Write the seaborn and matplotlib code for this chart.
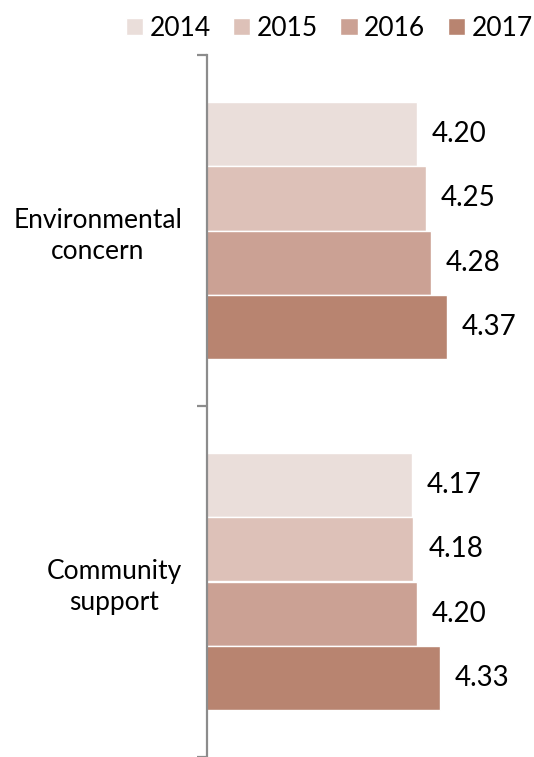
import matplotlib
matplotlib.use("Agg")
import matplotlib.pyplot as plt
import seaborn as sns
import pandas as pd
from matplotlib.ticker import FixedLocator

# Survey scores by dimension and year
categories = ["Environmental\nconcern", "Community\nsupport"]
years = ["2014", "2015", "2016", "2017"]
env_scores = [4.20, 4.25, 4.28, 4.37]
community_scores = [4.17, 4.18, 4.20, 4.33]
palette = ["#EADEDA", "#DDC1B8", "#CBA194", "#B88470"]

rows = []
for cat, vals in zip(categories, [env_scores, community_scores]):
    for yr, v in zip(years, vals):
        rows.append({"category": cat, "year": yr, "score": v})
df = pd.DataFrame(rows)

sns.set_theme(style="white")
plt.rcParams["font.family"] = ["Lato", "DejaVu Sans"]

fig = plt.figure(figsize=(5.34, 7.57), dpi=100)
ax = fig.add_axes([207 / 534, 0.0, 1 - 207 / 534, 1 - 55 / 757])

sns.barplot(
    data=df, y="category", x="score", hue="year", hue_order=years,
    order=categories, palette=palette, orient="h", width=0.73,
    edgecolor="white", linewidth=1.0, saturation=1.0, ax=ax, legend=True,
)

ax.set_xlim(3.0, 4.87)
ax.set_ylim(1.5, -0.5)
ax.set_xlabel("")
ax.set_ylabel("")
ax.set_xticks([])

# value labels to the right of each bar
for container in ax.containers:
    for bar in container:
        w = bar.get_width()
        ax.text(w + 0.085, bar.get_y() + bar.get_height() / 2, f"{w:.2f}",
                va="center", ha="left", fontsize=20, color="black")

for side in ["top", "right", "bottom"]:
    ax.spines[side].set_visible(False)
ax.spines["left"].set_color("#8c8c8c")
ax.spines["left"].set_linewidth(1.6)

ax.tick_params(axis="y", which="major", length=0, pad=18, labelsize=19,
               labelcolor="black")
for lbl in ax.get_yticklabels():
    lbl.set_multialignment("center")
    lbl.set_linespacing(1.3)
ax.yaxis.set_minor_locator(FixedLocator([-0.5, 0.5, 1.5]))
ax.tick_params(axis="y", which="minor", left=True, length=7, width=1.6,
               color="#8c8c8c", direction="out")

handles, labels = ax.get_legend_handles_labels()
ax.legend_.remove()
fig.legend(handles, labels, loc="upper right", ncol=4, frameon=False,
           fontsize=19, labelcolor="black", bbox_to_anchor=(1.027, 1.0),
           handlelength=0.65, handleheight=0.65, handletextpad=0.25,
           columnspacing=0.85, borderaxespad=0.2)

fig.savefig("out.png", dpi=100)
